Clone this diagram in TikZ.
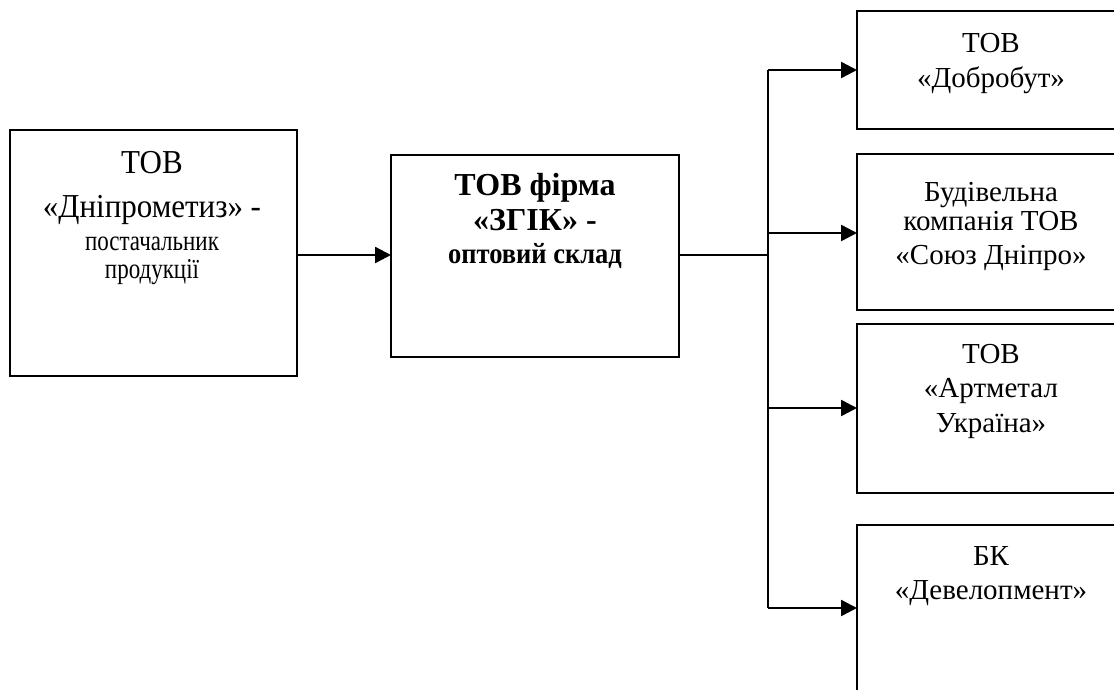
\documentclass[tikz,border=0pt]{standalone}
\usepackage{graphicx}
\usepackage{fontspec}
\setmainfont{Liberation Serif}
\usetikzlibrary{arrows.meta}
\newcommand\vstretch[2]{\scalebox{1}[#1]{#2}}
\tikzset{
  box/.style={draw, line width=2.2pt, rectangle, inner sep=0pt, outer sep=0pt},
  conn/.style={line width=2.4pt},
  arr/.style={line width=2.4pt, -{Triangle[length=16pt,width=16pt]}},
  big/.style={anchor=base, inner sep=0pt, font=\fontsize{31}{35}\selectfont},
  small/.style={anchor=base, inner sep=0pt, font=\fontsize{23}{27}\selectfont},
  rtxt/.style={anchor=base, inner sep=0pt, font=\fontsize{29}{33}\selectfont},
  bbig/.style={anchor=base, inner sep=0pt, font=\fontsize{32}{36}\selectfont\bfseries},
  bsmall/.style={anchor=base, inner sep=0pt, font=\fontsize{26.5}{30}\selectfont\bfseries},
}
\begin{document}
\begin{tikzpicture}[x=1pt, y=-1pt]
\clip (0,0) rectangle (1114,690);
\fill[white] (0,0) rectangle (1114,690);
% boxes
\node[box, minimum width=287pt, minimum height=246pt] (L) at (153.5,253) {};
\node[box, minimum width=288pt, minimum height=202pt] (M) at (535,256) {};
\node[box, minimum width=268pt, minimum height=118pt] (R1) at (991,70) {};
\node[box, minimum width=268pt, minimum height=156pt] (R2) at (991,232) {};
\node[box, minimum width=268pt, minimum height=169pt] (R3) at (991,408.5) {};
\node[box, minimum width=268pt, minimum height=200pt] (R4) at (991,625) {};
% texts
\node[big] (L1) at (152,173) {\vstretch{1.08}{ТОВ}};
\node[big] (L2) at (152,217) {\vstretch{1.08}{«Дніпрометиз» -}};
\node[small] (L3) at (152,250) {\vstretch{1.25}{постачальник}};
\node[small] (L4) at (152,278) {\vstretch{1.25}{продукції}};
\node[bbig] (M1) at (535,196) {ТОВ фірма};
\node[bbig] (M2) at (535,230) {«ЗГІК» -};
\node[bsmall] (M3) at (535,263) {\vstretch{1.1}{оптовий склад}};
\node[rtxt] (A1) at (991,53) {ТОВ};
\node[rtxt] (A2) at (991,88) {«Добробут»};
\node[rtxt] (B1) at (991,201) {Будівельна};
\node[rtxt] (B2) at (991,230) {компанія ТОВ};
\node[rtxt] (B3) at (991,264) {«Союз Дніпро»};
\node[rtxt] (C1) at (991,363) {ТОВ};
\node[rtxt] (C2) at (991,397) {«Артметал};
\node[rtxt] (C3) at (991,432) {Україна»};
\node[rtxt] (D1) at (991,565) {БК};
\node[rtxt] (D2) at (991,599) {«Девелопмент»};
% connectors
\coordinate (J) at (768,255);
\coordinate (T1) at (768,70);
\coordinate (T2) at (768,233);
\coordinate (T3) at (768,408);
\coordinate (T4) at (768,608);
\draw[arr] (L.east |- 0,255) -- (M.west |- 0,255);
\draw[conn] (M.east |- J) -- (J);
\draw[conn] (T1) -- (T4);
\draw[arr] (T1) -- (T1 -| R1.west);
\draw[arr] (T2) -- (T2 -| R2.west);
\draw[arr] (T3) -- (T3 -| R3.west);
\draw[arr] (T4) -- (T4 -| R4.west);
\end{tikzpicture}
\end{document}
